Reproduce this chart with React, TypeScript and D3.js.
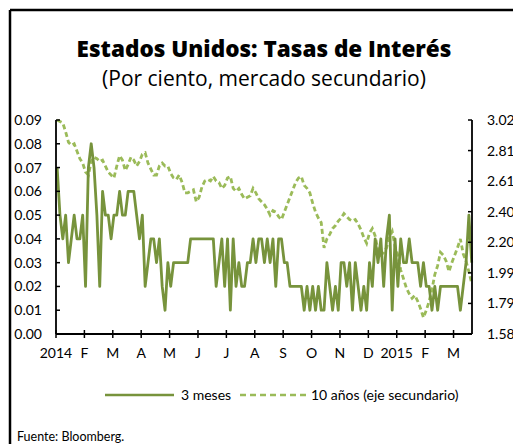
import React from "react";
import * as d3 from "d3";

// Month tick labels (one every 10 observations)
const monthLabels = ["2014", "F", "M", "A", "M", "J", "J", "A", "S", "O", "N", "D", "2015", "F", "M"];

// 3-month T-bill yield (%), left axis
const bill3m = [
  0.07, 0.05, 0.04, 0.05, 0.03, 0.04, 0.05, 0.04, 0.04, 0.05,
  0.02, 0.07, 0.08, 0.07, 0.05, 0.02, 0.06, 0.05, 0.05, 0.04,
  0.05, 0.05, 0.06, 0.05, 0.05, 0.06, 0.06, 0.06, 0.05, 0.04,
  0.05, 0.02, 0.03, 0.04, 0.04, 0.03, 0.04, 0.02, 0.01, 0.03,
  0.02, 0.03, 0.03, 0.03, 0.03, 0.03, 0.03, 0.04, 0.04, 0.04,
  0.04, 0.04, 0.04, 0.04, 0.04, 0.04, 0.02, 0.03, 0.04, 0.02,
  0.04, 0.01, 0.04, 0.02, 0.03, 0.02, 0.02, 0.03, 0.03, 0.04,
  0.03, 0.04, 0.04, 0.03, 0.04, 0.03, 0.04, 0.02, 0.04, 0.04,
  0.03, 0.03, 0.02, 0.02, 0.02, 0.02, 0.02, 0.01, 0.02, 0.01,
  0.02, 0.01, 0.02, 0.01, 0.01, 0.03, 0.02, 0.01, 0.02, 0.01,
  0.03, 0.03, 0.02, 0.03, 0.01, 0.03, 0.02, 0.01, 0.02, 0.01,
  0.03, 0.02, 0.04, 0.03, 0.04, 0.02, 0.04, 0.05, 0.01, 0.04,
  0.02, 0.04, 0.03, 0.03, 0.04, 0.03, 0.03, 0.03, 0.02, 0.03,
  0.02, 0.02, 0.01, 0.02, 0.01, 0.02, 0.02, 0.02, 0.02, 0.02,
  0.02, 0.02, 0.01, 0.02, 0.03, 0.05, 0.03,
];

// 10-year Treasury yield (%), right axis
const note10y = [
  3.02, 3.01, 3.0, 2.94, 2.87, 2.85, 2.86, 2.81, 2.76, 2.73,
  2.67, 2.65, 2.74, 2.77, 2.76, 2.74, 2.75, 2.71, 2.67, 2.65,
  2.63, 2.71, 2.78, 2.75, 2.68, 2.72, 2.77, 2.75, 2.71, 2.74,
  2.79, 2.8, 2.73, 2.69, 2.65, 2.65, 2.71, 2.73, 2.71, 2.71,
  2.66, 2.63, 2.62, 2.65, 2.6, 2.53, 2.53, 2.54, 2.55, 2.47,
  2.5, 2.57, 2.61, 2.62, 2.61, 2.64, 2.61, 2.6, 2.56, 2.58,
  2.63, 2.64, 2.56, 2.54, 2.56, 2.52, 2.49, 2.5, 2.51, 2.56,
  2.53, 2.49, 2.47, 2.45, 2.42, 2.38, 2.41, 2.4, 2.37, 2.35,
  2.4, 2.45, 2.5, 2.55, 2.6, 2.63, 2.64, 2.58, 2.56, 2.53,
  2.46, 2.4, 2.36, 2.33, 2.16, 2.22, 2.25, 2.29, 2.31, 2.34,
  2.36, 2.39, 2.37, 2.35, 2.34, 2.35, 2.32, 2.28, 2.23, 2.19,
  2.26, 2.29, 2.24, 2.14, 2.11, 2.13, 2.16, 2.23, 2.27, 2.17,
  2.11, 2.01, 1.95, 1.89, 1.85, 1.82, 1.84, 1.8, 1.75, 1.69,
  1.74, 1.8, 1.88, 1.98, 2.04, 2.13, 2.11, 2.07, 2.0, 2.06,
  2.11, 2.16, 2.22, 2.12, 2.07, 2.0, 1.92,
];

const leftTicks = [0, 0.01, 0.02, 0.03, 0.04, 0.05, 0.06, 0.07, 0.08, 0.09];
const rightMin = 1.58;
const rightMax = 3.02;

const FONT = "Lato, 'Noto Sans', sans-serif";
const TITLE_FONT = "'Open Sans', 'Noto Sans', sans-serif";
const DARK = "#77933C";
const LIGHT = "#9BBB59";

export default function App() {
  const W = 513;
  const H = 444;
  const xL = 56;
  const xR = 472;
  const yB = 334;
  const yT = 120;

  const x = d3.scaleLinear().domain([0, 146.5]).range([xL, xR]);
  const yLeft = d3.scaleLinear().domain([0, 0.09]).range([yB, yT]);
  const yRight = d3.scaleLinear().domain([rightMin, rightMax]).range([yB, yT]);
  const rightTicks = d3.range(8).map((k) => rightMin + (k * (rightMax - rightMin)) / 7);

  const line3m = d3
    .line<number>()
    .x((_, i) => x(i + 0.4))
    .y((d) => yLeft(d));
  const line10y = d3
    .line<number>()
    .x((_, i) => x(i + 0.4))
    .y((d) => yRight(d));

  return (
    <svg
      width={W}
      height={H}
      style={{ position: "absolute", left: 0, top: 0, background: "#fff" }}
      fontFamily={FONT}
    >
      {/* frame */}
      <line x1={10} y1={10} x2={W} y2={10} stroke="#000" strokeWidth={2.5} />
      <line x1={10} y1={10} x2={10} y2={H} stroke="#000" strokeWidth={2.5} />

      {/* titles */}
      <text x={264} y={57} textAnchor="middle" fontSize={22.5} fontWeight={800} fill="#000" fontFamily={TITLE_FONT}>
        Estados Unidos: Tasas de Interés
      </text>
      <text x={264} y={86} textAnchor="middle" fontSize={21} fill="#000" fontFamily={TITLE_FONT}>
        (Por ciento, mercado secundario)
      </text>

      {/* data */}
      <path d={line10y(note10y) || ""} fill="none" stroke={LIGHT} strokeWidth={2.8} strokeDasharray="5 3" />
      <path d={line3m(bill3m) || ""} fill="none" stroke={DARK} strokeWidth={2.8} strokeLinejoin="round" />

      {/* left axis */}
      <line x1={xL} y1={yT} x2={xL} y2={yB} stroke="#000" strokeWidth={1.8} />
      {leftTicks.map((t) => (
        <g key={"l" + t}>
          <line x1={xL} x2={xL + 4} y1={yLeft(t)} y2={yLeft(t)} stroke="#000" strokeWidth={1.5} />
          <text x={42} y={yLeft(t) + 5} textAnchor="end" fontSize={14} fill="#000">
            {t.toFixed(2)}
          </text>
        </g>
      ))}

      {/* right axis */}
      <line x1={xR} y1={yT} x2={xR} y2={yB} stroke="#000" strokeWidth={1.8} />
      {rightTicks.map((t, i) => (
        <g key={"r" + i}>
          <line x1={xR - 4} x2={xR} y1={yRight(t)} y2={yRight(t)} stroke="#000" strokeWidth={1.5} />
          <text x={487} y={yRight(t) + 5} textAnchor="start" fontSize={14} fill="#000">
            {t.toFixed(2)}
          </text>
        </g>
      ))}

      {/* x axis */}
      <line x1={xL} y1={yB} x2={xR} y2={yB} stroke="#000" strokeWidth={2} />
      {monthLabels.map((m, i) => (
        <g key={"x" + i}>
          <line x1={x(i * 10)} x2={x(i * 10)} y1={yB - 4} y2={yB + 4} stroke="#000" strokeWidth={1.5} />
          <text x={x(i * 10)} y={358} textAnchor="middle" fontSize={14} fill="#000">
            {m}
          </text>
        </g>
      ))}

      {/* legend */}
      <line x1={105} x2={174} y1={395} y2={395} stroke={DARK} strokeWidth={2.6} />
      <text x={181} y={400} fontSize={14} fill="#000">
        3 meses
      </text>
      <line x1={240} x2={308} y1={395} y2={395} stroke={LIGHT} strokeWidth={2.6} strokeDasharray="6 4" />
      <text x={311} y={400} fontSize={14} fill="#000">
        10 años (eje secundario)
      </text>

      {/* source */}
      <text x={17} y={441} fontSize={12.5} fill="#000">
        Fuente: Bloomberg.
      </text>
    </svg>
  );
}
